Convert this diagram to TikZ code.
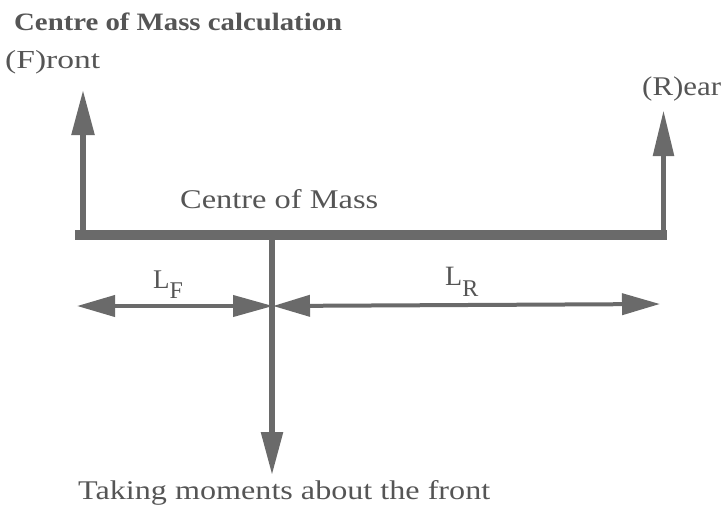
\documentclass[tikz,border=0pt]{standalone}
\usepackage{fontspec}
\setmainfont{Liberation Serif}
\usepackage{graphicx}
\usetikzlibrary{arrows.meta}
\definecolor{ink}{HTML}{555555}
\definecolor{linegray}{HTML}{6A6A6A}
\newcommand{\wtxt}[3]{\resizebox{#1}{\height}{\fontsize{#2}{#2}\selectfont #3}}
\begin{document}
\begin{tikzpicture}[x=1pt,y=-1pt,
  lbl/.style={inner sep=0pt, anchor=base west, text=ink},
  force/.style={draw=linegray, fill=linegray, line width=5.5pt},
  dimline/.style={draw=linegray, fill=linegray, line width=4pt},
  beamline/.style={draw=linegray, line width=10pt}]
\useasboundingbox (0,0) rectangle (727,512);

% coordinates
\coordinate (beamL) at (75,235);
\coordinate (beamR) at (667,235);
\coordinate (frontBase) at (83,235);
\coordinate (frontTip) at (83,90);
\coordinate (rearBase) at (663.5,235);
\coordinate (rearTip) at (663.5,110);
\coordinate (com) at (272,235);
\coordinate (comTip) at (272,475);
\coordinate (dl) at (77,306);
\coordinate (dm) at (273,306);
\coordinate (dr) at (660,304);

% beam and forces
\draw[beamline] (beamL) -- (beamR);
\draw[force, -{Triangle[length=45pt,width=22pt]}] (frontBase) -- (frontTip);
\draw[force, -{Triangle[length=46pt,width=20pt]}] (rearBase) -- (rearTip);
\draw[force, -{Triangle[length=43pt,width=21pt]}] (com) -- (comTip);

% dimension arrows
\draw[dimline, {Triangle[length=38pt,width=21pt]}-{Triangle[length=40pt,width=21pt]}] (dl) -- (dm);
\draw[dimline, {Triangle[length=37pt,width=21pt]}-{Triangle[length=38pt,width=21pt]}] (dm) -- (dr);

% texts
\node[lbl] (title) at (14,30) {\resizebox{328pt}{\height}{\bfseries\fontsize{25}{25}\selectfont Centre of Mass calculation}};
\node[lbl] (front) at (5,68) {\wtxt{95pt}{26}{(F)ront}};
\node[lbl] (comlabel) at (180,208) {\wtxt{198pt}{27}{Centre of Mass}};
\node[lbl] (rear) at (642,95) {\wtxt{79pt}{27}{(R)ear}};
\node[lbl] (moments) at (78,499) {\wtxt{412pt}{27}{Taking moments about the front}};
\node[lbl] (LF) at (153,288) {\fontsize{27}{27}\selectfont L\raisebox{-10pt}{\fontsize{24}{24}\selectfont F}};
\node[lbl] (LR) at (445,285) {\fontsize{28}{28}\selectfont L\raisebox{-11pt}{\fontsize{24}{24}\selectfont R}};
\end{tikzpicture}
\end{document}
